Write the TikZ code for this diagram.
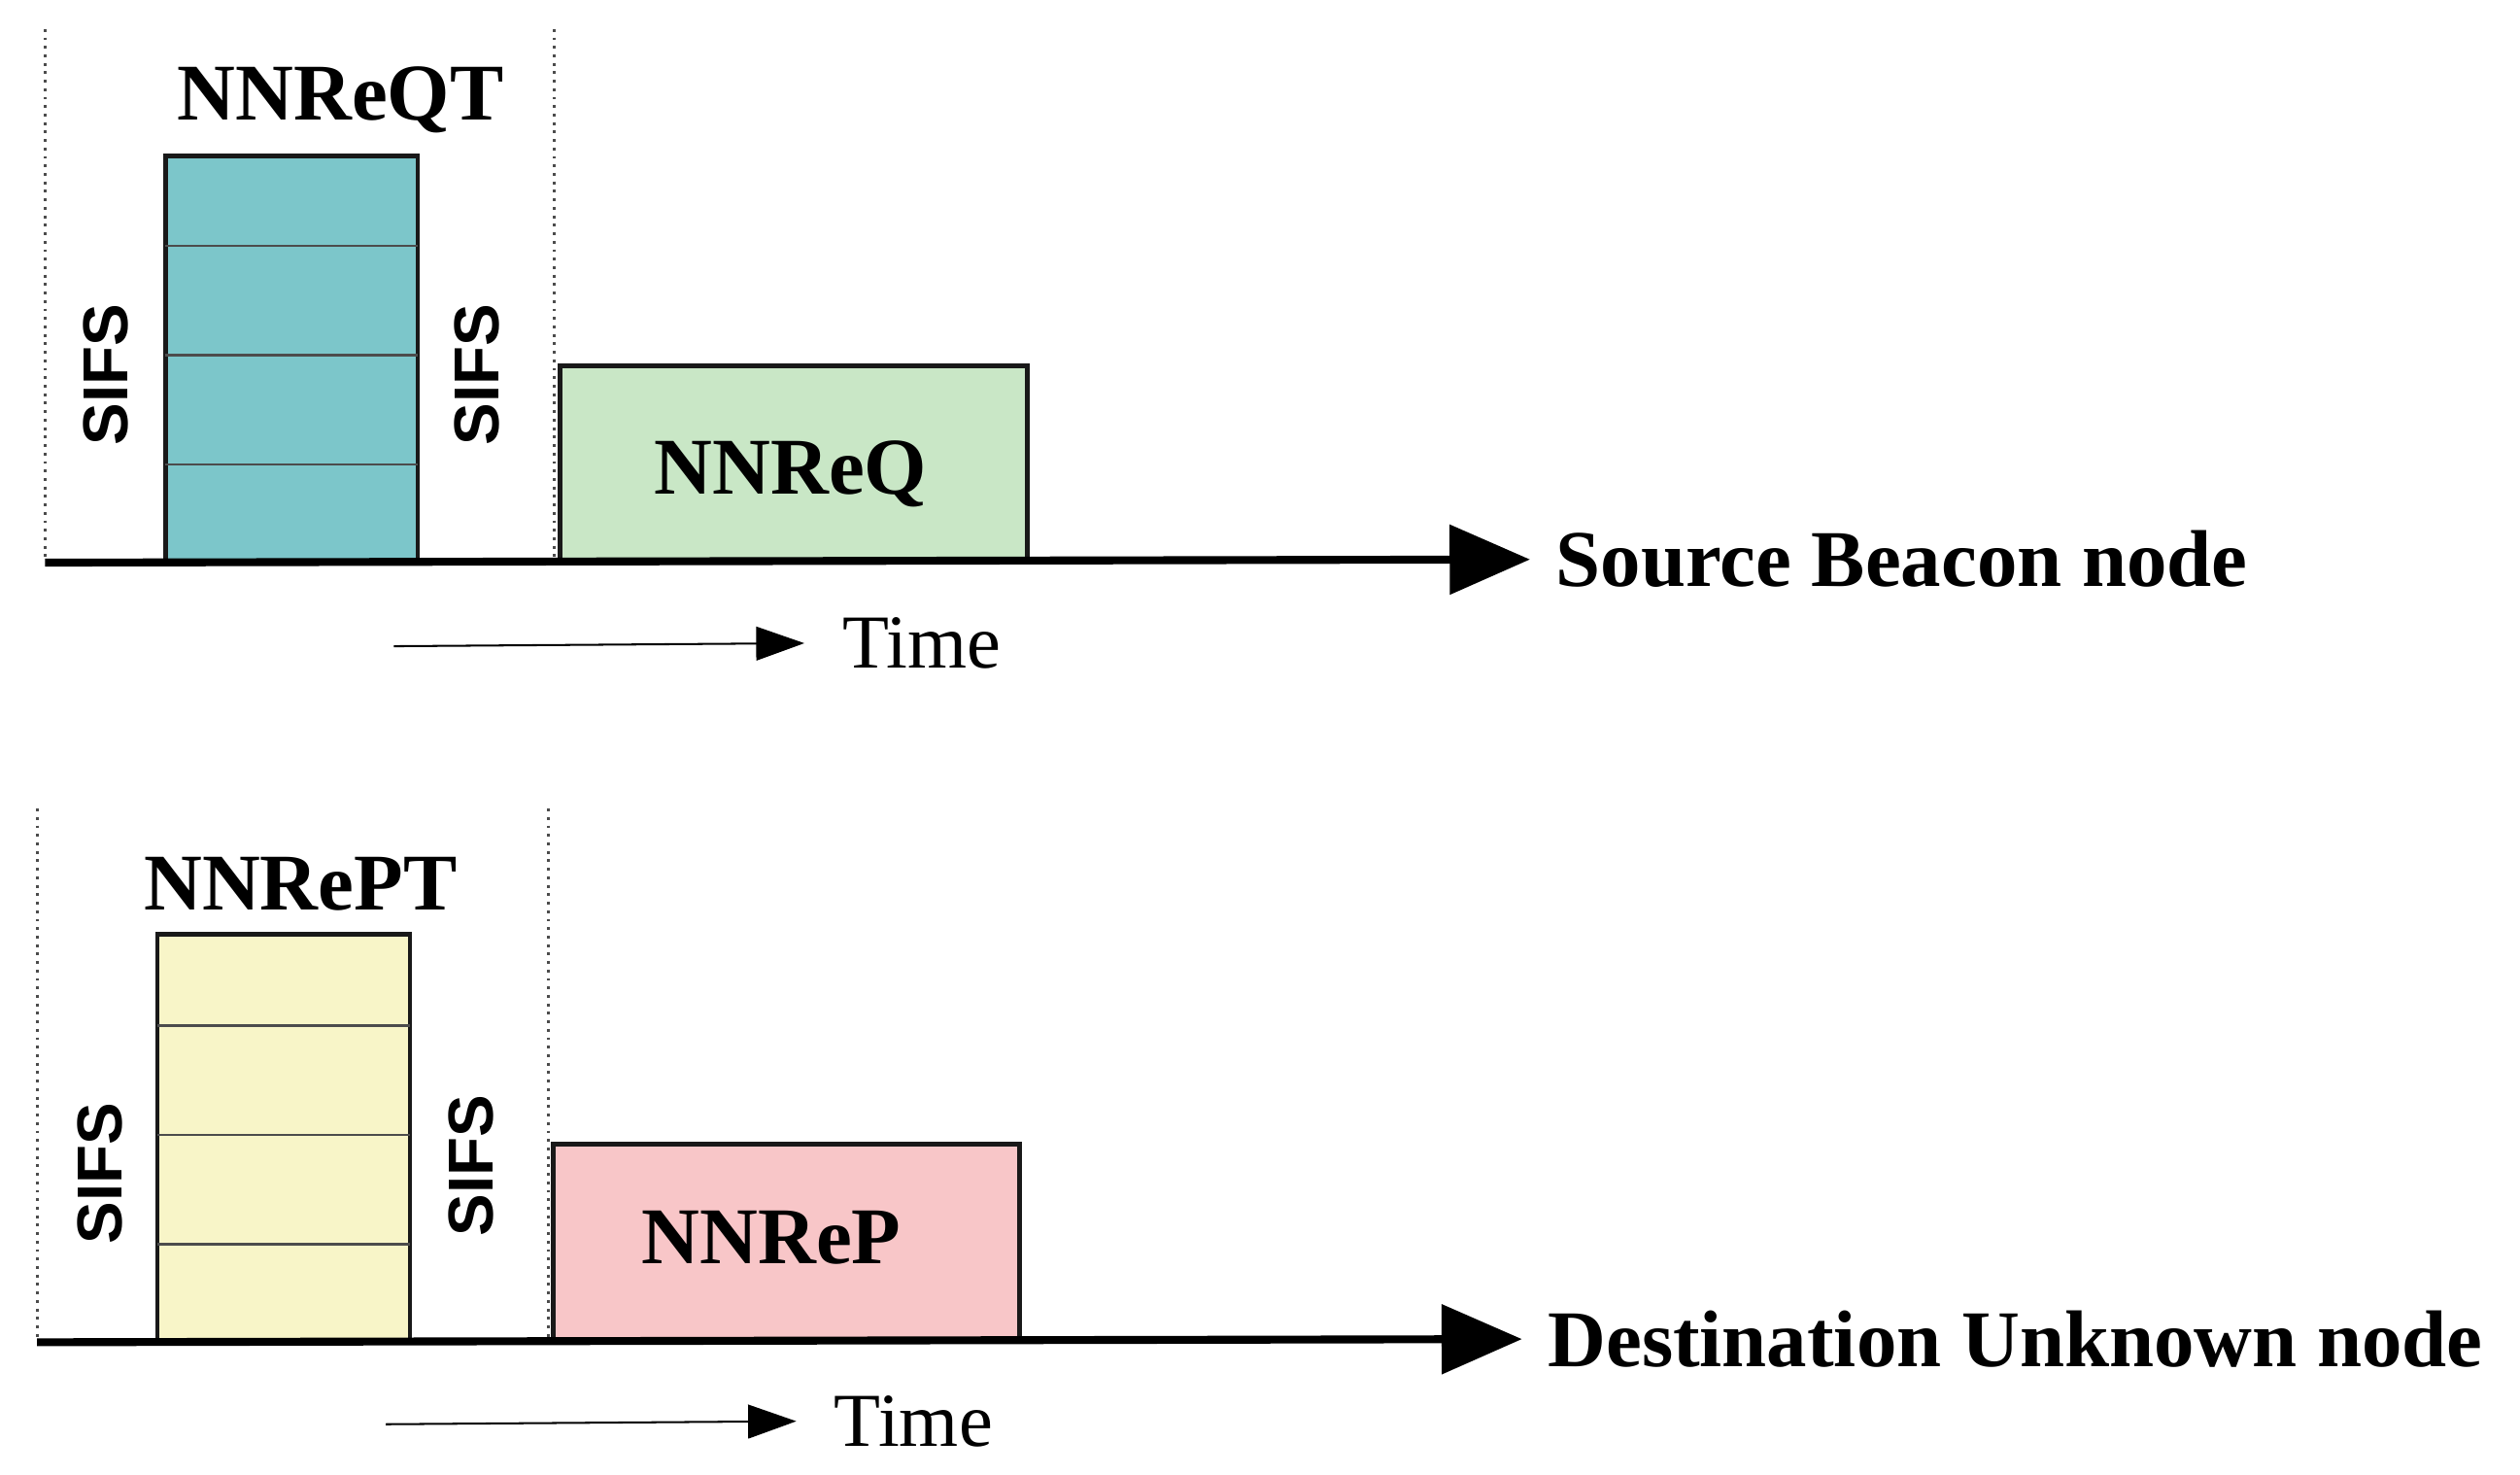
\documentclass[tikz,border=0pt]{standalone}
\usepackage{fontspec}
\setmainfont{Liberation Serif}
\newfontfamily\sansf{Liberation Sans}
\usetikzlibrary{arrows.meta}
\definecolor{teal1}{HTML}{7CC6CA}
\definecolor{green1}{HTML}{C9E7C6}
\definecolor{yellow1}{HTML}{F8F5C8}
\definecolor{pink1}{HTML}{F8C6C8}
\begin{document}
\begin{tikzpicture}[x=0.02cm,y=-0.02cm,
  box/.style={draw=black!90,line width=1.6pt},
  sep/.style={draw=black!70,line width=0.8pt},
  dot/.style={draw=black!70,line width=1pt,dotted},
  axis/.style={line width=2.8pt,shorten >=0.2cm,-{Triangle[length=1cm,width=0.85cm]}},
  tarr/.style={line width=0.7pt,shorten >=0.35cm,-{Triangle[length=0.6cm,width=0.42cm]}},
  big/.style={font=\fontsize{28.5}{30}\selectfont\bfseries},
  sifs/.style={font=\sansf\fontsize{22.5}{24}\selectfont\bfseries,rotate=90},
  tm/.style={font=\fontsize{27}{29}\selectfont,anchor=west}]
\useasboundingbox (0,0) rectangle (1568,917);
% top
\draw[dot] (28,18) -- (28,350);
\draw[dot] (345,18) -- (345,350);
\draw[box,fill=teal1] (103,97) rectangle (260,350);
\foreach \y in {153,221,289} \draw[sep] (103,\y) -- (260,\y);
\node[big] (qt) at (212,62) {NNReQT};
\node[sifs] (s1) at (66,233) {SIFS};
\node[sifs] (s2) at (297,233) {SIFS};
\node[box,fill=green1,minimum width=5.82cm,minimum height=2.42cm,anchor=south west,inner sep=0] (q) at (347,350) {};
\node[big] at (492,295) {NNReQ};
\coordinate (a1) at (28,350);
\node[big,anchor=west] (src) at (962,348) {Source Beacon node};
\draw[axis] (a1) -- (src.west);
\coordinate (t1) at (245,402);
\node[tm] (time1) at (518,400) {Time};
\draw[tarr] (t1) -- (time1.west);
% bottom
\draw[dot] (23,503) -- (23,835);
\draw[dot] (341,503) -- (341,835);
\draw[box,fill=yellow1] (98,581) rectangle (255,835);
\foreach \y in {638,706,774} \draw[sep] (98,\y) -- (255,\y);
\node[big] (pt) at (187,550) {NNRePT};
\node[sifs] (s3) at (62,730) {SIFS};
\node[sifs] (s4) at (293,725) {SIFS};
\node[box,fill=pink1,minimum width=5.8cm,minimum height=2.44cm,anchor=south west,inner sep=0] (p) at (343,835) {};
\node[big] at (480,770) {NNReP};
\coordinate (a2) at (23,835);
\node[big,anchor=west] (dst) at (957,833) {Destination Unknown node};
\draw[axis] (a2) -- (dst.west);
\coordinate (t2) at (240,886);
\node[tm] (time2) at (513,884) {Time};
\draw[tarr] (t2) -- (time2.west);
\end{tikzpicture}
\end{document}
